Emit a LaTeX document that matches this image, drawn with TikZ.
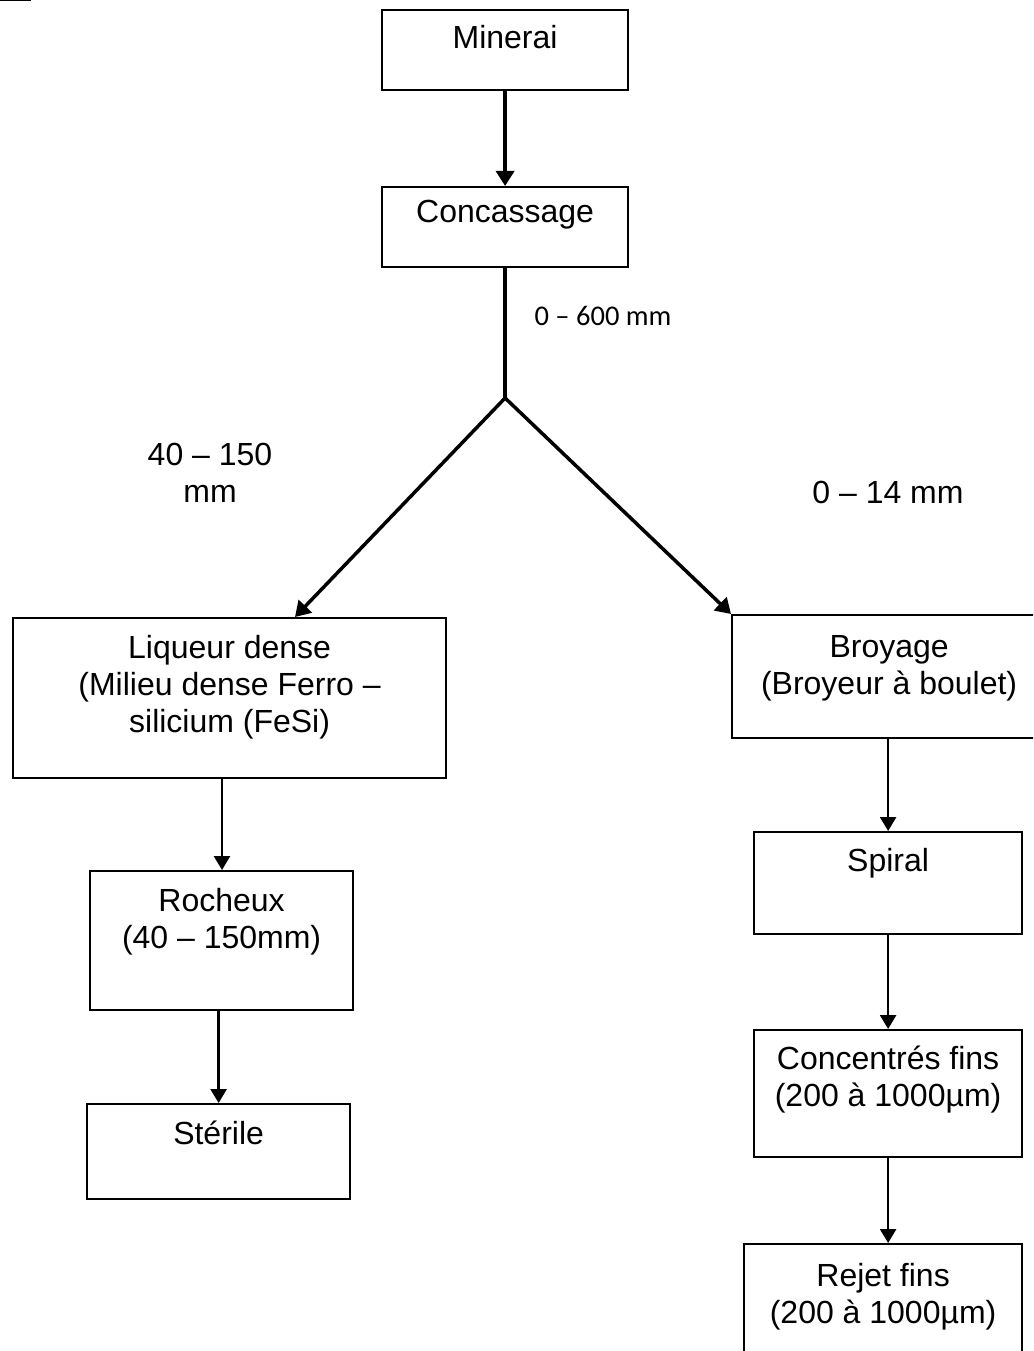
\documentclass[tikz,border=0pt]{standalone}
\usepackage{fontspec}
\setmainfont{Liberation Sans}
\newfontfamily\calfont{Carlito}
\usetikzlibrary{arrows.meta}
\tikzset{
  box/.style={draw, line width=2.2pt, rectangle, inner sep=0pt, anchor=north west},
  txt/.style={inner sep=0pt, align=center, anchor=north, font=\fontsize{32}{37}\selectfont},
  lbl/.style={inner sep=0pt, align=center, font=\fontsize{32}{37}\selectfont},
  thick arrow/.style={line width=3.5pt, -{Triangle[length=15pt,width=18pt]}},
  thin arrow/.style={line width=2.6pt, -{Triangle[length=14pt,width=16pt]}},
}
\begin{document}
\begin{tikzpicture}[x=1pt,y=-1pt]
\useasboundingbox (0,0) rectangle (1033,1351);
\clip (0,0) rectangle (1033,1351);
\draw[line width=2pt] (0,0.5) -- (31,0.5);
% boxes
\node[box, minimum width=246pt, minimum height=80pt] (min) at (381,9) {};
\node[box, minimum width=246pt, minimum height=80pt] (conc) at (381,186) {};
\node[box, minimum width=433pt, minimum height=160pt] (liq) at (12,617) {};
\node[box, minimum width=263pt, minimum height=139pt] (roch) at (89,870) {};
\node[box, minimum width=263pt, minimum height=95pt] (ster) at (86,1103) {};
\node[box, minimum width=314pt, minimum height=123pt] (broy) at (731,614) {};
\node[box, minimum width=268pt, minimum height=102pt] (spir) at (753,831) {};
\node[box, minimum width=268pt, minimum height=127pt] (concf) at (753,1029) {};
\node[box, minimum width=278pt, minimum height=130pt] (rej) at (743,1243) {};
% box texts
\node[txt] (min-t) at ([yshift=-16pt]min.north) {Minerai};
\node[txt] (conc-t) at ([yshift=-14pt]conc.north) {Concassage};
\node[txt] (liq-t) at ([yshift=-18pt]liq.north) {Liqueur dense\\(Milieu dense Ferro –\\silicium (FeSi)};
\node[txt] (roch-t) at ([yshift=-18pt]roch.north) {Rocheux\\(40 – 150mm)};
\node[txt] (ster-t) at ([yshift=-18pt]ster.north) {Stérile};
\node[txt] (broy-t) at ([yshift=-21pt]broy.north) {Broyage\\(Broyeur à boulet)};
\node[txt] (spir-t) at ([yshift=-17pt]spir.north) {Spiral};
\node[txt] (concf-t) at ([yshift=-17pt]concf.north) {Concentrés fins\\(200 à 1000µm)};
\node[txt] (rej-t) at ([yshift=-20pt]rej.north) {Rejet fins\\(200 à 1000µm)};
% labels
\node[inner sep=0pt, font=\calfont\fontsize{28.5}{33}\selectfont] (l600) at (603,316) {0 – 600 mm};
\node[lbl, anchor=base] (l40) at (210,502) {40 – 150\\mm};
\node[lbl] (l14) at (888,492) {0 – 14 mm};
% connectors
\coordinate (junc) at (conc.south |- 0,398);
\coordinate (lt) at (295,617);
\draw[thick arrow] (min.south) -- (conc.north);
\draw[line width=3.5pt] (conc.south) -- (junc);
\draw[thick arrow, line join=miter] (junc) -- (lt);
\draw[thick arrow] (junc) -- (broy.north west);
\draw[thin arrow] (liq.south -| 222,0) -- (roch.north -| 222,0);
\draw[thin arrow] (roch.south -| ster.north) -- (ster.north);
\draw[thin arrow] (broy.south -| spir.north) -- (spir.north);
\draw[thin arrow] (spir.south) -- (concf.north);
\draw[thin arrow] (concf.south) -- (concf.south |- rej.north);
\end{tikzpicture}
\end{document}
